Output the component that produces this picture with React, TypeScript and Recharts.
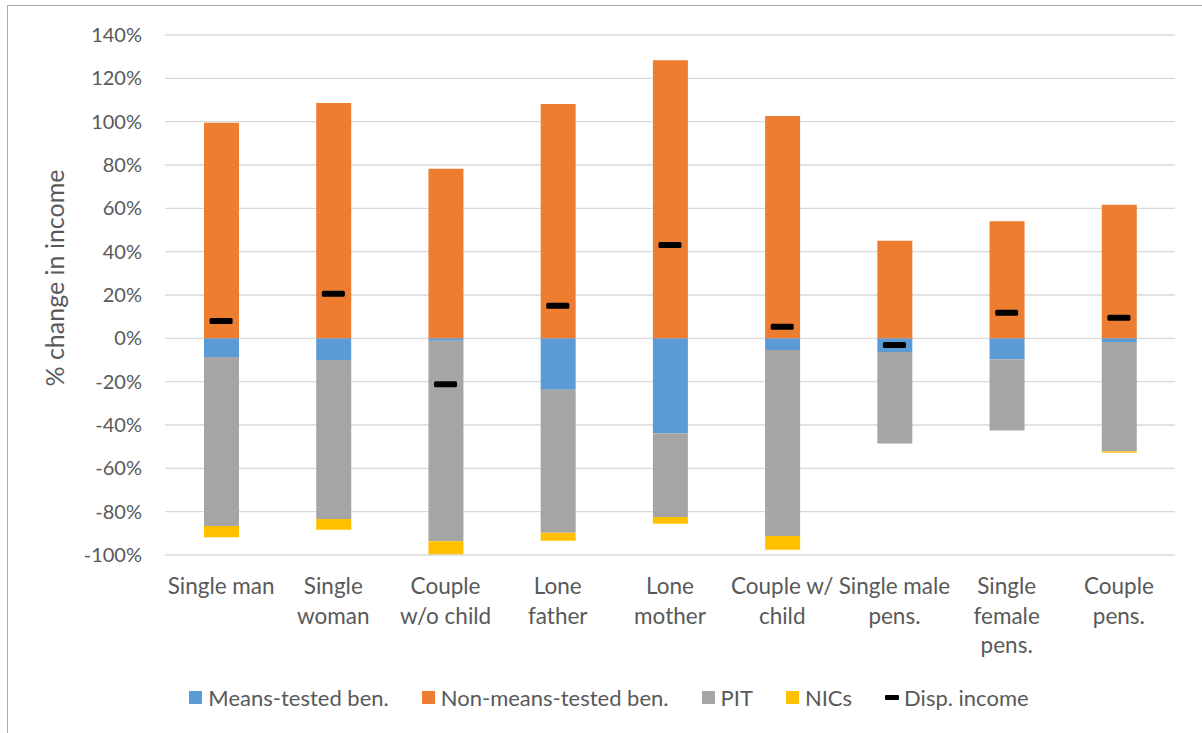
import { ComposedChart, Bar, Line, XAxis, YAxis, CartesianGrid, Legend } from 'recharts';

const categories = [
  'Single man',
  'Single\nwoman',
  'Couple\nw/o child',
  'Lone\nfather',
  'Lone\nmother',
  'Couple w/\nchild',
  'Single male\npens.',
  'Single\nfemale\npens.',
  'Couple\npens.',
];
const meansTested = [-8.6, -10.0, -1.1, -23.7, -43.8, -5.4, -6.3, -9.7, -1.7];
const nonMeansTested = [99.5, 108.6, 78.3, 108.1, 128.4, 102.6, 45.0, 54.0, 61.7];
const pit = [-78.0, -73.4, -92.5, -66.0, -38.7, -85.8, -42.2, -32.8, -50.5];
const nics = [-5.2, -4.9, -6.1, -3.7, -3.1, -6.4, 0, 0, -0.6];
const dispIncome = [8.0, 20.6, -21.2, 15.0, 43.1, 5.4, -3.1, 11.8, 9.5];
const yTicks = [-100, -80, -60, -40, -20, 0, 20, 40, 60, 80, 100, 120, 140];

const legendItems = [
  { label: 'Means-tested ben.', color: '#5B9BD5', kind: 'box' },
  { label: 'Non-means-tested ben.', color: '#ED7D31', kind: 'box' },
  { label: 'PIT', color: '#A5A5A5', kind: 'box' },
  { label: 'NICs', color: '#FFC000', kind: 'box' },
  { label: 'Disp. income', color: '#000000', kind: 'dash' },
];

const data = categories.map((name, i) => ({
  name,
  mt: meansTested[i],
  nmt: nonMeansTested[i],
  pit: pit[i],
  nics: nics[i],
  disp: dispIncome[i],
}));

const FONT = 'Lato, "Open Sans", sans-serif';
const TEXT = '#595959';

function CategoryTick(props: any) {
  const { x, y, payload } = props;
  const lines = String(payload.value).split('\n');
  return (
    <text x={x} y={y} textAnchor="middle" fill={TEXT} fontSize={22.5} fontFamily={FONT}>
      {lines.map((line, i) => (
        <tspan key={i} x={x} dy={i === 0 ? 37 : 29.7}>
          {line}
        </tspan>
      ))}
    </text>
  );
}

function DashDot(props: any) {
  const { cx, cy } = props;
  if (cx == null || cy == null) return null;
  return <rect x={cx - 11.5} y={cy - 3} width={23} height={6} rx={1.5} fill="#000" />;
}

function AxisTitle() {
  return (
    <text
      x={54}
      y={278}
      transform="rotate(-90 54 278)"
      textAnchor="middle"
      dominantBaseline="central"
      fill={TEXT}
      fontSize={25}
      fontFamily={FONT}
    >
      % change in income
    </text>
  );
}

function LegendContent() {
  return (
    <div
      style={{
        display: 'flex',
        justifyContent: 'center',
        alignItems: 'center',
        fontFamily: FONT,
        fontSize: 22,
        color: TEXT,
        height: 26,
      }}
    >
      {legendItems.map((it, i) => (
        <div
          key={it.label}
          style={{ display: 'flex', alignItems: 'center', marginRight: i === legendItems.length - 1 ? 0 : 33 }}
        >
          {it.kind === 'box' ? (
            <span style={{ width: 13, height: 13, background: it.color, marginRight: 6, display: 'inline-block' }} />
          ) : (
            <span style={{ width: 14, height: 5, background: it.color, marginRight: 5, borderRadius: 1, display: 'inline-block' }} />
          )}
          <span>{it.label}</span>
        </div>
      ))}
    </div>
  );
}

export default function App() {
  return (
    <div style={{ position: 'absolute', left: 0, top: 0, width: 1202, height: 733, background: '#fff', overflow: 'hidden' }}>
      <div
        style={{
          position: 'absolute',
          left: 7,
          top: 5,
          width: 1210,
          height: 760,
          border: '1px solid #ABABAB',
          boxSizing: 'border-box',
        }}
      />
      <div style={{ position: 'absolute', left: 0, top: 0 }}>
        <ComposedChart
          width={1202}
          height={733}
          data={data}
          stackOffset="sign"
          margin={{ top: 35, right: 27, bottom: 0, left: 0 }}
        >
          <CartesianGrid vertical={false} stroke="#D9D9D9" strokeWidth={1.3} />
          <XAxis
            dataKey="name"
            axisLine={false}
            tickLine={false}
            tickSize={0}
            interval={0}
            tick={<CategoryTick />}
            height={152}
          />
          <YAxis
            type="number"
            domain={[-100, 140]}
            ticks={yTicks}
            interval={0}
            axisLine={false}
            tickLine={false}
            tickSize={0}
            tickMargin={23}
            width={165}
            tickFormatter={(v: number) => `${v}%`}
            tick={{ fill: TEXT, fontSize: 20, fontFamily: FONT }}
            label={<AxisTitle />}
          />
          <Legend
            verticalAlign="bottom"
            content={<LegendContent />}
            wrapperStyle={{ position: 'absolute', left: 8, top: 684, width: 1202 }}
          />
          <Bar dataKey="mt" stackId="a" fill="#5B9BD5" barSize={35} isAnimationActive={false} />
          <Bar dataKey="nmt" stackId="a" fill="#ED7D31" barSize={35} isAnimationActive={false} />
          <Bar dataKey="pit" stackId="a" fill="#A5A5A5" barSize={35} isAnimationActive={false} />
          <Bar dataKey="nics" stackId="a" fill="#FFC000" barSize={35} isAnimationActive={false} />
          <Line
            dataKey="disp"
            stroke="none"
            dot={<DashDot />}
            activeDot={false}
            isAnimationActive={false}
          />
        </ComposedChart>
      </div>
    </div>
  );
}
